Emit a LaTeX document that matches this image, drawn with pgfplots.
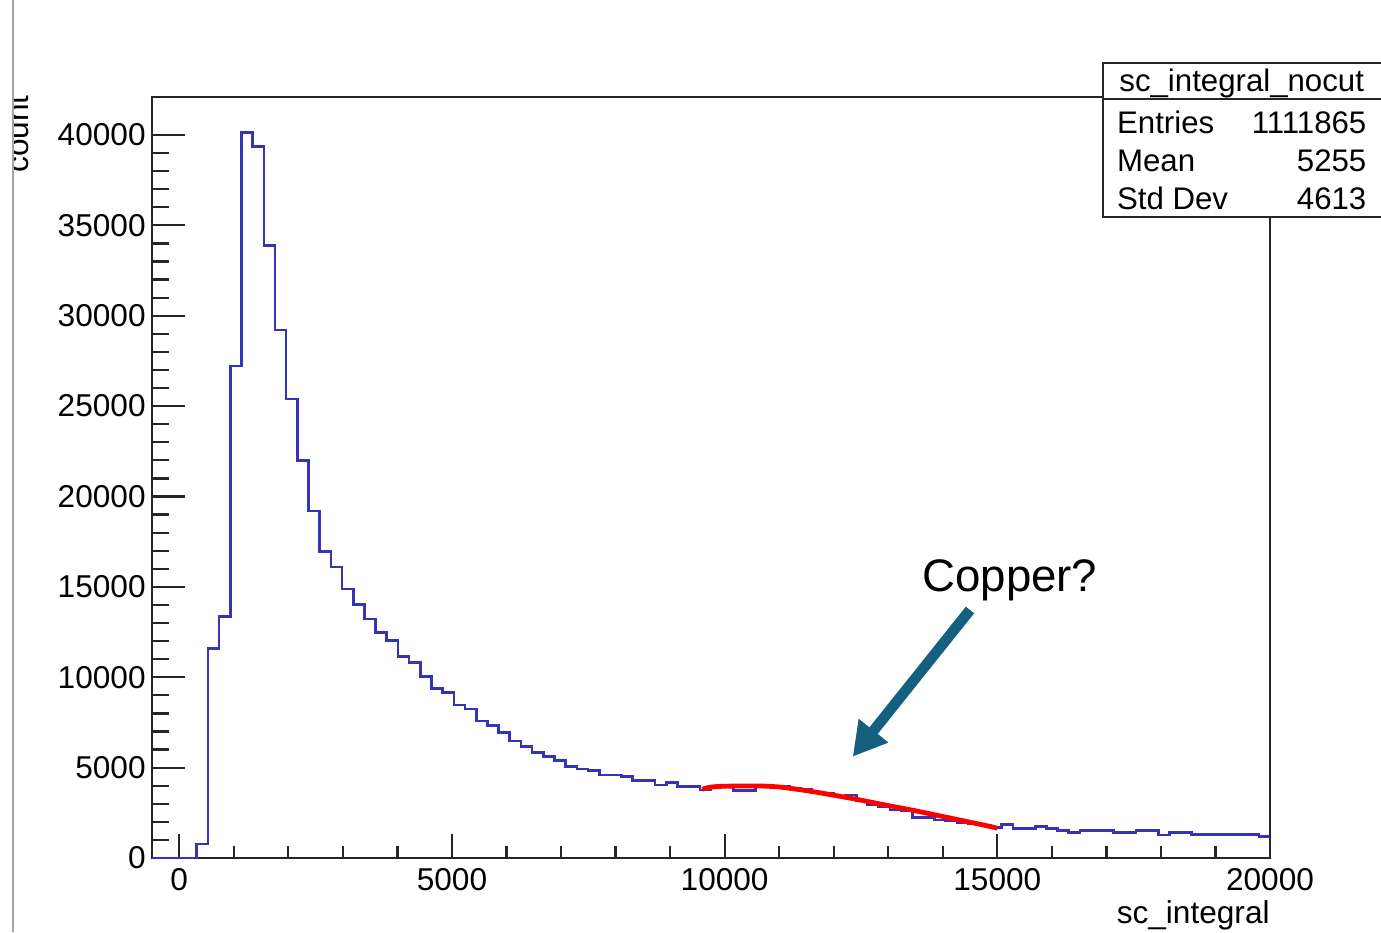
\documentclass[border=0pt]{standalone}
\usepackage{pgfplots}
\usepackage{pgfplotstable}
\pgfplotsset{compat=1.18}
\usetikzlibrary{arrows.meta}
\usepackage{fontspec}
\setmainfont{Liberation Sans}
\definecolor{histblue}{RGB}{52,52,185}
\definecolor{arrowblue}{RGB}{22,96,127}

\pgfplotstableread{
x y
-500 0
-295 0
-90 0
115 0
320 775
525 11600
730 13350
935 27230
1140 40150
1345 39370
1550 33870
1755 29220
1960 25400
2165 21990
2370 19200
2575 16970
2780 16090
2985 14890
3190 14040
3395 13230
3600 12490
3805 12030
4010 11140
4215 10830
4420 10030
4625 9390
4830 9150
5035 8470
5240 8250
5445 7580
5650 7320
5855 6930
6060 6470
6265 6160
6470 5830
6675 5610
6880 5380
7085 5050
7290 4930
7495 4830
7700 4590
7905 4590
8110 4500
8315 4280
8520 4280
8725 4040
8930 4190
9135 3950
9340 3970
9545 3760
9750 3920
9955 3950
10160 3725
10365 3725
10570 3950
10775 3960
10980 3940
11185 3880
11390 3820
11595 3600
11800 3560
12005 3430
12210 3480
12415 3150
12620 2970
12825 2840
13030 2660
13235 2600
13440 2250
13645 2250
13850 2100
14055 2050
14260 1975
14465 1880
14670 1825
14875 1700
15080 1870
15285 1630
15490 1620
15695 1750
15900 1640
16105 1510
16310 1400
16515 1510
16720 1510
16925 1510
17130 1400
17335 1400
17540 1510
17745 1510
17950 1270
18155 1420
18360 1420
18565 1310
18770 1310
18975 1310
19180 1310
19385 1310
19590 1310
19795 1180
20000 1180
}\histdata

\pgfplotstableread{
x y
9590 3800
9700 3900
9900 3960
10300 3985
10700 3980
11000 3930
11200 3855
11500 3730
11800 3580
12100 3420
12400 3260
12700 3080
13000 2900
13300 2730
13600 2550
13900 2360
14200 2170
14500 1980
14800 1790
15000 1650
}\fitdata

\pgfplotsset{
  rootframe/.style={
    at={(76pt,-429pt)}, anchor=south west,
    scale only axis, width=559pt, height=380.5pt,
    xmin=-500, xmax=20000, ymin=0, ymax=42100,
    axis line style={line width=1.2pt, black!85},
    tick style={line width=1.1pt, black!85},
    tick align=inside, tick pos=left,
    scaled x ticks=false, scaled y ticks=false,
    tick label style={font=\fontsize{15.8}{19}\selectfont,
      /pgf/number format/1000 sep={},
      /pgf/number format/assume math mode=true},
  }
}

\begin{document}
\begin{tikzpicture}
\useasboundingbox (0,0) rectangle (690.5pt,-466pt);

% x ticks axis
\begin{axis}[rootframe,
  xtick={0,5000,10000,15000,20000}, minor x tick num=4,
  ytick=\empty,
  major tick length=12pt, minor tick length=6pt,
  xticklabel style={anchor=north, inner sep=0pt, yshift=-5pt},
]
\end{axis}

% y ticks axis + data
\begin{axis}[rootframe,
  xtick=\empty,
  ytick={0,5000,10000,15000,20000,25000,30000,35000,40000}, minor y tick num=4,
  major tick length=16.5pt, minor tick length=8.5pt,
  yticklabel style={anchor=east, inner sep=0pt, xshift=-3pt},
]
\addplot[const plot, histblue, line width=1.3pt] table {\histdata};
\addplot[red, line width=2.4pt, smooth] table {\fitdata};
\end{axis}

% left gray edge line
\draw[black!35, line width=1pt] (6.5pt,0) -- (6.5pt,-466pt);

% y label (clipped at the edge line)
\begin{scope}
\clip (7pt,0) rectangle (60pt,-466pt);
\node[rotate=90, anchor=base east, inner sep=0pt, font=\fontsize{15.8}{19}\selectfont] at (14pt,-47.5pt) {count};
\end{scope}

% x label
\node[anchor=base east, inner sep=0pt, font=\fontsize{15.8}{19}\selectfont] at (635pt,-461.5pt) {sc\_integral};

% stats box
\draw[draw=black!85, fill=white, line width=1.2pt] (551.5pt,-31.5pt) rectangle (692pt,-108.5pt);
\draw[draw=black!85, line width=1.2pt] (551.5pt,-49.5pt) -- (692pt,-49.5pt);
\begin{scope}[every node/.style={inner sep=0pt, text=black, font=\fontsize{15.6}{19}\selectfont}]
\node[anchor=base] at (620.85pt,-45.85pt) {sc\_integral\_nocut};
\node[anchor=base west] at (558.35pt,-66.5pt) {Entries};
\node[anchor=base east] at (683.35pt,-66.5pt) {1111865};
\node[anchor=base west] at (558.35pt,-85.6pt) {Mean};
\node[anchor=base east] at (683.35pt,-85.6pt) {5255};
\node[anchor=base west] at (558.35pt,-104.7pt) {Std Dev};
\node[anchor=base east] at (683.35pt,-104.7pt) {4613};
\end{scope}

% annotation
\node[anchor=base west, inner sep=0pt, font=\fontsize{22.8}{27}\selectfont] at (461pt,-295.85pt) {Copper?};
\draw[arrowblue, line width=5.3pt, -{Triangle[length=16.7pt, width=17.8pt]}] (485pt,-305pt) -- (426.35pt,-378.35pt);
\end{tikzpicture}
\end{document}
